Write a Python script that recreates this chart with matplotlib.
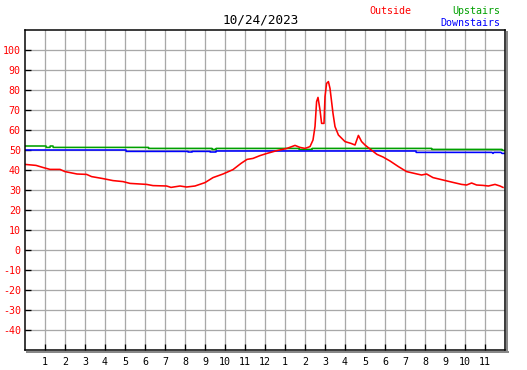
import numpy as np
import matplotlib
matplotlib.use('Agg')
import matplotlib.pyplot as plt
from matplotlib.lines import Line2D

W, H = 527, 370

title = '10/24/2023'

# hours since midnight, temperature
outside_t = [0.0, 0.55, 0.92, 1.25, 1.75, 2.0, 2.6, 3.08, 3.33, 3.9, 4.4, 4.9, 5.25,
             6.08, 6.4, 7.08, 7.3, 7.75, 8.08, 8.5, 9.0, 9.4, 9.9, 10.4, 10.8, 11.1,
             11.4, 11.75, 12.1, 12.6, 13.1, 13.5, 13.75, 14.0, 14.25, 14.4, 14.5,
             14.58, 14.65, 14.75, 14.83, 14.95, 15.0, 15.08, 15.17, 15.25, 15.4,
             15.5, 15.67, 16.0, 16.3, 16.5, 16.67, 16.83, 17.0, 17.25, 17.6, 17.9,
             18.25, 18.67, 19.08, 19.6, 19.83, 20.08, 20.4, 20.9, 21.4, 21.83,
             22.08, 22.33, 22.58, 22.9, 23.17, 23.5, 23.75, 23.9]
outside_v = [42.8, 42.3, 41.2, 40.3, 40.3, 39.2, 38.0, 37.8, 36.7, 35.7, 34.7, 34.2, 33.3,
             32.8, 32.2, 32.0, 31.3, 32.0, 31.5, 32.0, 33.7, 36.2, 38.0, 40.2, 43.3, 45.3,
             45.8, 47.2, 48.3, 49.7, 50.8, 52.3, 51.3, 50.8, 51.7, 55.0, 61.7,
             74.2, 76.3, 70.0, 63.3, 63.3, 76.7, 83.3, 84.2, 80.8, 68.3,
             61.7, 57.5, 54.2, 53.3, 52.5, 57.3, 54.2, 52.5, 50.5, 47.8, 46.5,
             44.5, 41.7, 39.2, 38.0, 37.5, 38.0, 36.2, 35.0, 33.8, 32.8,
             32.5, 33.5, 32.5, 32.3, 32.0, 32.8, 32.0, 31.3]

upstairs_t = [0.0, 1.05, 1.06, 1.25, 1.26, 1.4, 1.41, 6.17, 6.18, 9.35, 9.36, 9.55, 9.56,
              13.7, 13.71, 14.35, 14.36, 20.33, 20.34, 20.5, 20.51, 23.85, 23.86, 24.0]
upstairs_v = [52.0, 52.0, 51.3, 51.3, 52.0, 52.0, 51.3, 51.3, 50.8, 50.8, 50.3, 50.3, 50.8,
              50.8, 50.3, 50.3, 50.8, 50.8, 50.3, 50.3, 50.3, 50.3, 49.8, 49.8]

downstairs_t = [0.0, 5.05, 5.06, 8.15, 8.16, 8.35, 8.36, 9.25, 9.26, 9.55, 9.56,
                19.55, 19.56, 23.35, 23.4, 23.45, 23.8, 23.85, 24.0]
downstairs_v = [50.0, 50.0, 49.3, 49.3, 49.0, 49.0, 49.3, 49.3, 49.0, 49.0, 49.5,
                49.5, 48.8, 48.8, 48.3, 48.8, 48.8, 48.3, 48.3]

yticks = list(range(-40, 101, 10))
xticks = list(range(1, 24))
xlabels = [str(h) for h in range(1, 13)] + [str(h) for h in range(1, 12)]

mono = 'DejaVu Sans Mono'
px = 72.0 / 100  # one pixel in points

fig = plt.figure(figsize=(W / 100, H / 100), dpi=100)
ax = fig.add_axes([25 / W, 20 / H, 480 / W, 320 / H])

# drop shadow of the frame
shadow = dict(color='#888888', lw=2 * px, transform=fig.transFigure, zorder=0)
fig.add_artist(Line2D([506.5 / W, 506.5 / W], [(H - 352) / H, (H - 32) / H], **shadow))
fig.add_artist(Line2D([27 / W, 507.5 / W], [(H - 351.5) / H, (H - 351.5) / H], **shadow))

ax.set_xlim(0, 24)
ax.set_ylim(-50, 110)
ax.grid(True, color='#a8a8a8', lw=1.3 * px)
ax.set_axisbelow(True)

ax.plot(upstairs_t, upstairs_v, color='#00a000', lw=1.6 * px)
ax.plot(downstairs_t, downstairs_v, color='#0000ff', lw=1.6 * px)
ax.plot(outside_t, outside_v, color='#ff0000', lw=1.6 * px)

ax.set_yticks(yticks)
ax.set_yticklabels([str(v) for v in yticks], color='#ff0000', fontsize=10 * px,
                   family=mono)
ax.set_xticks(xticks)
ax.set_xticklabels(xlabels, color='black', fontsize=10 * px, family=mono)
ax.tick_params(direction='in', length=4, width=1.3 * px, pad=3, color='black')
ax.tick_params(axis='x', pad=5)

for s in ax.spines.values():
    s.set_linewidth(1.5 * px)
    s.set_color('black')

fig.text(261 / W, 1 - 20 / H, title, ha='center', va='center', family=mono,
         fontsize=12.8 * px, color='black')
fig.text(369 / W, 1 - 11 / H, 'Outside', ha='left', va='center', family=mono,
         fontsize=10 * px, color='#ff0000')
fig.text(500 / W, 1 - 11 / H, 'Upstairs', ha='right', va='center', family=mono,
         fontsize=10 * px, color='#00a000')
fig.text(500 / W, 1 - 23.3 / H, 'Downstairs', ha='right', va='center', family=mono,
         fontsize=10 * px, color='#0000ff')

fig.savefig('out.png', dpi=100)
